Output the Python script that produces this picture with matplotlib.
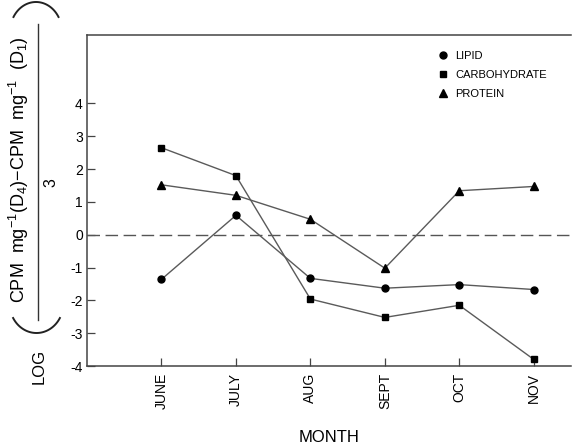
import numpy as np
import matplotlib
matplotlib.use("Agg")
import matplotlib.pyplot as plt
from matplotlib.lines import Line2D

plt.rcParams['font.family'] = ['Liberation Sans', 'DejaVu Sans']
plt.rcParams['mathtext.fontset'] = 'custom'
plt.rcParams['mathtext.rm'] = 'Liberation Sans'
plt.rcParams['mathtext.it'] = 'Liberation Sans'
plt.rcParams['mathtext.default'] = 'rm'

months = ["JUNE", "JULY", "AUG", "SEPT", "OCT", "NOV"]
lipid = [-1.36, 0.59, -1.33, -1.63, -1.52, -1.67]
carbohydrate = [2.65, 1.80, -1.96, -2.52, -2.15, -3.80]
protein = [1.52, 1.20, 0.47, -1.02, 1.34, 1.47]
yticks = [-4, -3, -2, -1, 0, 1, 2, 3, 4]

W, H = 573, 447
fig = plt.figure(figsize=(W / 100, H / 100), dpi=100)
ax = fig.add_axes([87 / W, 1 - 366 / H, 484 / W, 331.5 / H])

x = np.arange(len(months))
line_col = "#5a5a5a"
series = [
    (lipid, "o", 5.0, "LIPID"),
    (carbohydrate, "s", 5.0, "CARBOHYDRATE"),
    (protein, "^", 6.0, "PROTEIN"),
]
handles = []
for vals, mk, ms, name in series:
    ax.plot(x, vals, color=line_col, lw=1.0, zorder=3)
    ax.plot(x, vals, ls="none", marker=mk, ms=ms, color="black", zorder=4)
    handles.append(Line2D([], [], ls="none", marker=mk, ms=ms, color="black", label=name))

ax.axhline(0, color="#555555", lw=1.0, ls=(0, (9, 4)), zorder=2)

ax.set_xlim(-1, 5.5)
ax.set_ylim(-4, 6.1)
ax.set_xticks(x)
ax.set_xticklabels(months, rotation=90, fontsize=10)
ax.set_yticks(yticks)
ax.set_yticklabels([str(v) for v in yticks], fontsize=10)
ax.tick_params(axis="both", direction="in", length=6, width=0.9, color="#444444")
ax.tick_params(axis="x", pad=5)
ax.tick_params(axis="y", pad=3)
ax.spines["right"].set_visible(False)
for s in ("left", "top", "bottom"):
    ax.spines[s].set_color("#444444")
    ax.spines[s].set_linewidth(1.1)

ax.set_xlabel("MONTH", fontsize=12, labelpad=15)

leg = ax.legend(handles=handles, loc="upper left", bbox_to_anchor=(0.7355, 0.95),
                frameon=False, fontsize=8, handlelength=0, handletextpad=1.1,
                labelspacing=0.8, borderpad=0, borderaxespad=0)

# Y-axis label: LOG ( numerator / 3 ), built in pixel coordinates
ov = fig.add_axes([0, 0, 1, 1], facecolor="none")
ov.set_xlim(0, W)
ov.set_ylim(H, 0)
ov.axis("off")
ov.text(39, 366, "LOG", rotation=90, ha="center", va="center", fontsize=12)
ov.text(19, 170, r"CPM  mg$^{-1}$(D$_4$)$-$CPM  mg$^{-1}$  (D$_1$)", rotation=90,
        ha="center", va="center", fontsize=13)
ov.plot([38, 38], [320, 24], color="#333333", lw=1.0)
ov.text(51, 183, "3", rotation=90, ha="center", va="center", fontsize=11.5)
th = np.radians(np.linspace(-60, 60, 60))
ov.plot(36.5 + 27 * np.sin(th), 303 + 30 * np.cos(th), color="#222222", lw=1.4)
ov.plot(36.0 + 26 * np.sin(th), 32 - 30 * np.cos(th), color="#222222", lw=1.4)

fig.savefig("out.png", dpi=100)
